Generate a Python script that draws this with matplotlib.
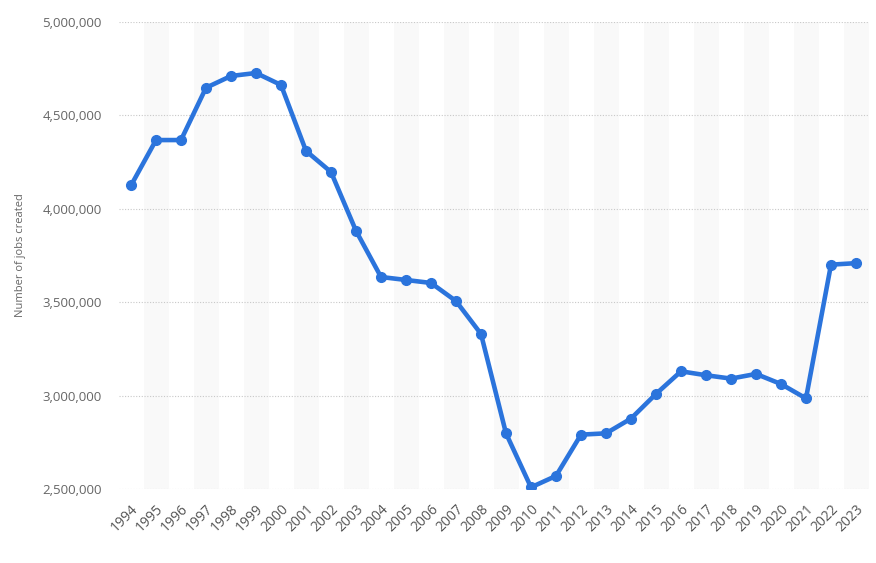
import matplotlib
matplotlib.use("Agg")
import matplotlib.pyplot as plt
from matplotlib.ticker import FuncFormatter

years = [str(y) for y in range(1994, 2024)]
jobs = [4125000, 4368000, 4368000, 4648000, 4711000, 4727000, 4663000, 4310000,
        4197000, 3882000, 3635000, 3619000, 3603000, 3506000, 3330000, 2798000,
        2509000, 2570000, 2791000, 2798000, 2877000, 3009000, 3130000, 3109000,
        3091000, 3116000, 3062000, 2985000, 3701000, 3709000]
y_ticks = [2500000, 3000000, 3500000, 4000000, 4500000, 5000000]

plt.rcParams['font.family'] = ['Open Sans', 'DejaVu Sans']

fig = plt.figure(figsize=(8.76, 5.63), dpi=100)
ax = fig.add_axes([118.5 / 876, (563 - 489) / 563, 750 / 876, (489 - 22) / 563])

x = list(range(len(years)))
for i in x:
    if i % 2 == 1:
        ax.axvspan(i - 0.5, i + 0.5, color='#f9f9f9', zorder=0, lw=0)

ax.plot(x, jobs, color='#2b74dc', lw=3.3, marker='o', markersize=7, zorder=3,
        solid_capstyle='round', solid_joinstyle='round')

ax.set_xlim(-0.5, len(years) - 0.5)
ax.set_ylim(2500000, 5000000)
ax.set_yticks(y_ticks)
ax.yaxis.set_major_formatter(FuncFormatter(lambda v, p: f"{int(v):,}"))
ax.set_xticks(x)
ax.set_xticklabels(years, rotation=45, ha='right', rotation_mode='anchor')

ax.grid(axis='y', color='#c8c8c8', linestyle=(0, (1, 1.5)), lw=0.8, zorder=1)
ax.set_axisbelow(True)
for s in ax.spines.values():
    s.set_visible(False)
ax.tick_params(axis='y', length=0, colors='#666666', labelsize=9.5, pad=12)
ax.tick_params(axis='x', length=0, colors='#555555', labelsize=10, pad=9)
ax.set_ylabel('Number of jobs created', color='#666666', fontsize=8, labelpad=12)

fig.savefig('out.png', dpi=100)
